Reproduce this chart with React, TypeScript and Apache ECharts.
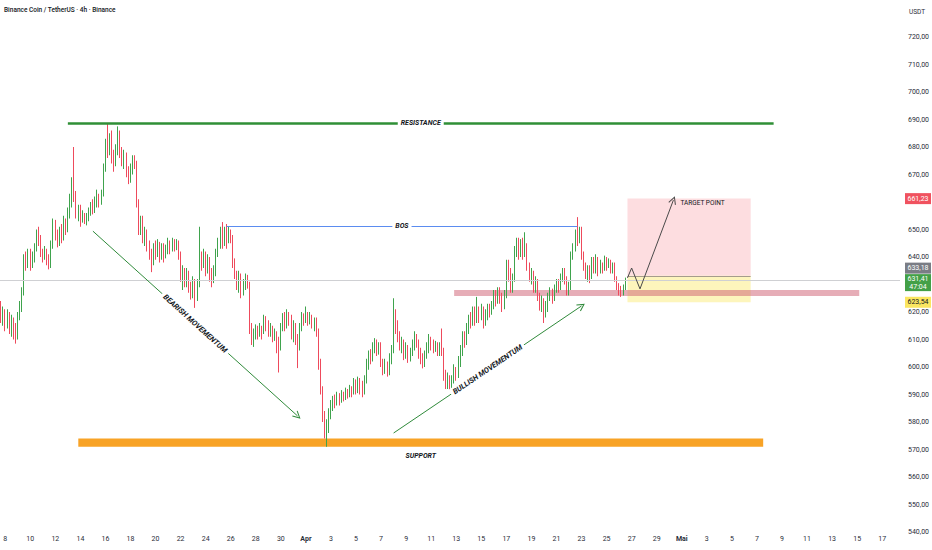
import React, { useEffect, useRef } from 'react';
import * as echarts from 'echarts';

const TITLE = 'Binance Coin / TetherUS · 4h · Binance';
const CURRENCY = 'USDT';

// x-axis tick labels, one every two days starting 8 March 00:00
const dayTickLabels = ['8', '10', '12', '14', '16', '18', '20', '22', '24', '26', '28', '30', 'Apr', '3', '5', '7', '9', '11', '13', '15', '17', '19', '21', '23', '25', '27', '29', 'Mai', '3', '5', '7', '9', '11', '13', '15', '17'];
const SLOT_COUNT = 431; // 4h slots shown on the time axis
const FIRST_TICK_SLOT = 2;
const SLOTS_PER_DAY = 6;
const TICK_EVERY_DAYS = 2;

// 4h candles: [open, close, low, high]
const candles: number[][] = [
  [622, 618, 616, 624], [618, 620, 615, 622], [620, 616, 613, 621], [616, 619, 614, 621], [619, 615, 612, 620], [615, 617, 611, 619],
  [617, 613, 610, 618], [613, 611, 608.5, 616], [611, 619, 610, 620], [619, 622, 617, 624], [622, 627, 620, 629], [627, 639, 626, 641],
  [639, 638, 635, 642], [638, 641, 636, 643], [641, 637, 635, 643], [637, 640, 636, 642], [640, 643, 638, 645], [643, 648, 642, 650],
  [648, 646, 644, 651], [646, 641, 640, 648], [641, 640, 638, 643], [640, 642, 639, 644], [642, 639, 637, 643], [639, 637, 635.5, 641],
  [637, 644, 636, 646], [644, 651, 643, 654], [651, 648, 646, 653.5], [648, 645, 643.5, 650], [645, 649, 644, 651], [649, 647, 645, 652],
  [647, 652, 646, 655], [652, 650, 648, 654], [650, 656, 649, 658], [656, 660, 654, 663], [660, 667, 658, 669], [667, 662, 660, 680],
  [662, 656, 654, 664], [656, 657, 653, 659], [657, 653, 651, 659], [653, 655, 652.5, 657], [655, 653, 652, 656], [653, 654, 651.5, 656],
  [654, 657, 653, 658], [657, 659, 655, 660], [659, 657, 655.5, 661], [657, 660, 656, 662], [660, 662, 658, 664.5], [662, 660, 658, 663],
  [660, 663, 659, 664.5], [663, 672, 662, 674], [672, 681, 671, 683], [681, 679, 676, 688.5], [679, 683, 677, 685], [683, 676, 674, 686],
  [676, 674, 671, 679], [674, 679, 673, 681], [679, 684, 677, 687.5], [684, 678, 676, 686], [678, 675, 673, 680], [675, 677, 672, 679],
  [677, 671, 669, 678], [671, 668, 666.5, 673], [668, 672, 667, 674], [672, 675, 670, 677], [675, 674, 672, 677], [674, 660, 658, 675],
  [660, 650, 648, 661], [650, 653, 648, 655], [653, 646, 645, 655], [646, 649, 644, 651], [649, 644, 642, 650], [644, 641, 639, 646],
  [641, 639, 634.5, 643], [639, 643, 637, 645], [643, 641, 639, 646], [641, 644, 640, 646.5], [644, 640, 638, 645.5], [640, 643, 639, 645],
  [643, 641, 638, 645], [641, 642, 639.5, 644.5], [642, 645, 641, 647], [645, 643, 641, 646], [643, 645.5, 642, 647], [645.5, 644, 642, 646.5],
  [644, 645, 642.5, 646.5], [645, 641, 639, 646], [641, 632, 631, 642], [632, 635, 628, 637], [635, 630, 629, 636], [630, 634, 629, 636],
  [634, 629, 627, 635], [629, 627, 624.5, 631], [627, 631, 625, 633], [631, 626, 621.5, 632], [626, 630, 624, 632], [630, 640, 629, 651],
  [640, 638, 635, 642], [638, 641, 636, 643], [641, 635, 633, 642], [635, 639, 634, 641], [639, 633, 631, 640], [633, 631, 629, 636],
  [631, 634, 630.5, 637], [634, 641, 633, 643], [641, 645, 640, 647], [645, 649, 643, 651], [649, 645, 643, 652.7], [645, 648, 644, 651],
  [648, 646, 643, 652], [646, 649, 645, 651], [649, 647, 645, 650], [647, 638, 636, 648], [638, 634, 632, 639.5], [634, 631, 628, 635],
  [631, 633, 627, 635], [633, 628, 625, 634], [628, 630, 626, 632], [630, 632, 628, 634], [632, 630, 628.5, 633.5], [630, 614, 612, 631],
  [614, 611, 608, 616], [611, 612, 607.3, 614], [612, 614, 610, 615.5], [614, 612, 610, 615], [612, 614, 611, 616], [614, 613, 610, 615],
  [613, 617, 612, 619], [617, 615, 613, 618.5], [615, 613, 611, 617], [613, 614, 611, 616], [614, 611, 609, 615], [611, 612, 609.5, 614],
  [612, 609, 605, 613], [609, 608, 598, 611], [608, 614, 606, 616], [614, 618, 613, 619.6], [618, 615, 613, 620], [615, 619, 614, 621],
  [619, 617, 615, 620], [617, 612, 610, 619], [612, 615, 609, 617], [615, 610, 608, 616], [610, 608, 599.6, 612], [608, 614, 606, 616],
  [614, 618, 613, 620], [618, 617, 615, 619.5], [617, 619, 616, 622], [619, 617, 615, 620], [617, 618, 615.5, 620], [618, 616, 614, 619],
  [616, 617, 613, 618], [617, 613, 611, 618], [613, 601, 599, 614], [601, 592, 590, 603], [592, 582, 580, 593], [582, 577, 574, 584],
  [577, 578, 571, 581], [578, 583, 576, 585], [583, 586, 581, 588], [586, 588, 584, 589.5], [588, 587, 585, 590], [587, 589, 586, 591],
  [589, 588, 586, 590.5], [588, 590, 587, 591.6], [590, 589, 587.5, 591], [589, 591, 588, 592.5], [591, 590, 588.5, 592], [590, 592, 589, 593.5],
  [592, 591, 589, 593], [591, 594, 590, 596], [594, 592, 590, 595.5], [592, 595, 590.5, 596.5], [595, 593, 590, 596], [593, 591, 589, 595],
  [591, 595, 590, 597], [595, 601, 594, 603], [601, 604, 599, 606], [604, 603, 601, 606.5], [603, 607, 602, 609], [607, 609, 605, 610.5],
  [609, 606, 604, 610], [606, 608, 604.5, 609], [608, 602, 600, 609], [602, 599, 597, 603], [599, 601, 597.5, 603], [601, 598, 596.5, 602],
  [598, 603, 597, 605], [603, 606, 601, 608], [606, 619, 605, 625], [619, 615, 612, 621], [615, 611, 609, 617], [611, 608, 606, 613],
  [608, 609, 605, 611], [609, 605, 602.5, 610], [605, 607, 603, 609], [607, 603, 601.5, 608], [603, 605, 602, 607], [605, 608, 604, 610],
  [608, 611, 606, 613], [611, 609, 607, 612], [609, 605, 603, 610], [605, 603, 601, 607], [603, 601, 599.5, 605], [601, 604, 600, 606],
  [604, 607, 603, 609], [607, 610, 605, 612], [610, 608, 606, 611], [608, 607, 605, 610], [607, 608, 605.5, 609.5], [608, 606, 604, 609],
  [606, 607, 604, 609], [607, 606, 604, 614], [606, 597, 595, 607], [597, 594, 592, 599], [594, 596, 592, 598], [596, 593, 591.6, 597],
  [593, 595, 591.5, 597], [595, 599, 594, 601], [599, 597, 595, 600], [597, 602, 596, 604], [602, 606, 600, 608], [606, 611, 604, 613],
  [611, 609, 607, 613], [609, 614, 608, 616], [614, 618, 612, 619], [618, 616, 614, 620], [616, 620, 615, 622], [620, 617, 615, 622],
  [617, 621, 616, 625.5], [621, 618, 616, 622], [618, 621, 617, 623], [621, 616, 614, 622], [616, 619, 615, 621], [619, 622, 617, 623],
  [622, 620, 618, 623], [620, 622, 619, 624], [622, 626, 621, 628], [626, 624, 622, 628], [624, 627, 623, 629], [627, 625, 623, 629],
  [625, 622, 620, 627], [622, 626, 621, 628], [626, 637, 625, 639], [637, 634, 631, 639], [634, 628, 627, 636], [628, 632, 627, 634],
  [632, 642, 631, 644], [642, 645, 640, 647], [645, 641, 639, 647], [641, 645, 640, 646.5], [645, 641, 639, 647], [641, 644, 640, 649],
  [644, 637, 635, 645], [637, 633, 631, 638], [633, 634, 630, 636], [634, 629, 627, 635], [629, 631, 627, 633], [631, 626, 624, 632],
  [626, 622, 620.5, 627], [622, 624, 620, 626], [624, 620, 616, 625], [620, 622, 618, 624], [622, 625, 620, 627], [625, 627, 624, 629],
  [627, 625, 623, 628.5], [625, 628, 624, 630], [628, 630, 627, 632], [630, 629, 627, 632], [629, 632, 628, 634], [632, 634, 631, 636],
  [634, 632, 630, 636], [632, 627, 626, 633], [627, 629, 626, 631], [629, 640, 628, 642], [640, 643, 639, 645], [643, 648, 642, 650],
  [648, 646, 644, 654.5], [646, 650, 645, 651], [650, 641, 639, 651], [641, 637, 635, 642], [637, 634, 632, 638], [634, 636, 631, 637],
  [636, 633, 630.5, 637], [633, 638, 632, 640], [638, 636, 634, 640], [636, 639, 634, 641], [639, 635, 633, 640], [635, 637, 634, 639],
  [637, 636, 634, 638], [636, 639, 635, 640.5], [639, 637, 635, 640], [637, 638, 636, 639.5], [638, 635, 634, 639], [635, 637, 634, 638],
  [637, 632, 631, 638], [632, 629, 628, 633], [629, 628, 626, 630.5], [628, 627, 625.5, 629.5], [627, 629, 626, 630], [629, 631.41, 628, 632.5],
];

// levels and drawings, as [slot, price]
const resistanceLevel = 688.7;
const resistanceSpan = [32, 370];
const supportZone = [571, 574];
const supportSpan = [37, 365];
const bosLevel = 651.3;
const bosSpan = [108, 276];
const flipZone = [625.8, 628];
const flipSpan = [217, 411];
const positionSpan = [300, 359];
const targetPrice = 661.23;
const entryPrice = 633.18;
const stopPrice = 623.54;
const lastPrice = 631.41;
const countdown = '47:04';
const bearishArrow = [[44, 649.4], [142, 582.2]];
const bullishArrow = [[188, 576], [278, 622.2]];
const targetPath = [[300, 632.4], [302, 636], [306, 628.4], [322, 660.7]];
const taggedPrices = [targetPrice, entryPrice, lastPrice, stopPrice];

const FONT = 'Roboto, "Noto Sans", sans-serif';
const UP = '#3fa34d';
const DOWN = '#ee4a5c';
const CHEVRON = 'path://M5,0 L10,9 L8.9,9.6 L5,2.6 L1.1,9.6 L0,9 Z';

const fmt = (v: number) => v.toFixed(2).replace('.', ',');

function buildCategories() {
  const start = Date.UTC(2025, 2, 7, 16);
  const out: string[] = [];
  for (let k = 0; k < SLOT_COUNT; k++) {
    const d = new Date(start + k * 4 * 3600 * 1000);
    out.push(d.toISOString().slice(0, 13) + ':00');
  }
  return out;
}

export default function App() {
  const ref = useRef<HTMLDivElement>(null);
  useEffect(() => {
    if (!ref.current) return;
    const chart = echarts.init(ref.current, undefined, { renderer: 'svg' });
    const categories = buildCategories();
    const tickBySlot = new Map<number, string>();
    dayTickLabels.forEach((t, i) => tickBySlot.set(FIRST_TICK_SLOT + i * TICK_EVERY_DAYS * SLOTS_PER_DAY, t));

    const seg = (a: number[], b: number[], color: string, width: number, arrow?: boolean) => [
      { coord: a, symbol: 'none', lineStyle: { color, width, type: 'solid' } },
      { coord: b, symbol: arrow ? CHEVRON : 'none', symbolSize: arrow ? [8, 8] : 0 },
    ];
    const area = (x0: number, x1: number, p0: number, p1: number, color: string) => [
      { coord: [x0, p1], itemStyle: { color } },
      { coord: [x1, p0] },
    ];

    const targetSegs: any[] = [];
    for (let i = 0; i < targetPath.length - 1; i++) {
      targetSegs.push(seg(targetPath[i], targetPath[i + 1], '#4a4a4a', 1, i === targetPath.length - 2));
    }

    chart.setOption({
      animation: false,
      backgroundColor: '#ffffff',
      grid: { left: 0, right: 32, top: 10, bottom: 18 },
      xAxis: {
        type: 'category',
        data: categories,
        boundaryGap: true,
        axisLine: { show: false },
        axisTick: { show: false },
        splitLine: { show: false },
        axisLabel: {
          interval: (index: number) => tickBySlot.has(index),
          formatter: (_v: string, index: number) => {
            const t = tickBySlot.get(index) || '';
            return t === 'Apr' || t === 'Mai' ? `{m|${t}}` : t;
          },
          fontSize: 7,
          color: '#2a2e39',
          fontFamily: FONT,
          margin: 3,
          rich: { m: { fontSize: 7, fontWeight: 'bold', color: '#2a2e39', fontFamily: FONT } },
        },
      },
      yAxis: {
        type: 'value',
        position: 'right',
        min: 540,
        max: 729.82,
        interval: 10,
        scale: true,
        axisLine: { show: false },
        axisTick: { show: false },
        splitLine: { show: false },
        axisLabel: {
          showMaxLabel: false,
          // tick labels hidden behind the price tags, as on the reference
          formatter: (v: number) => (taggedPrices.some((p) => Math.abs(p - v) < 2.5) ? '' : fmt(v)),
          fontSize: 7,
          color: '#2a2e39',
          fontFamily: FONT,
          margin: 8,
        },
      },
      series: [
        {
          type: 'candlestick',
          data: candles,
          barWidth: '62%',
          itemStyle: { color: UP, color0: DOWN, borderColor: UP, borderColor0: DOWN, borderWidth: 1 },
          markArea: {
            silent: true,
            label: { show: false },
            data: [
              area(supportSpan[0], supportSpan[1], supportZone[0], supportZone[1], '#f8a326'),
              area(positionSpan[0], positionSpan[1], entryPrice, targetPrice, 'rgba(244,67,84,0.18)'),
              area(positionSpan[0], positionSpan[1], stopPrice, entryPrice, 'rgba(250,228,70,0.36)'),
              area(flipSpan[0], flipSpan[1], flipZone[0], flipZone[1], 'rgba(205,92,112,0.5)'),
            ],
          },
          markLine: {
            silent: true,
            symbol: ['none', 'none'],
            label: { show: false },
            emphasis: { disabled: true },
            data: [
              [{ yAxis: lastPrice, x: 0, lineStyle: { color: '#cfd0d3', width: 1, type: 'solid' }, symbol: 'none' }, { yAxis: lastPrice, x: 900, symbol: 'none' }],
              seg([positionSpan[0], entryPrice], [positionSpan[1], entryPrice], '#a59c8c', 1),
              seg([resistanceSpan[0], resistanceLevel], [resistanceSpan[1], resistanceLevel], '#2f8f36', 2.5),
              seg([bosSpan[0], bosLevel], [bosSpan[1], bosLevel], '#5b8cf0', 1),
              seg(bearishArrow[0], bearishArrow[1], '#2f8a3a', 1, true),
              seg(bullishArrow[0], bullishArrow[1], '#2f8a3a', 1, true),
              ...targetSegs,
            ],
          },
        },
      ],
    });

    const px = (p: number[]) => chart.convertToPixel({ gridIndex: 0 }, p) as number[];
    const py = (v: number) => chart.convertToPixel({ yAxisIndex: 0 }, v) as number;
    const mid = (a: number[], b: number[]) => {
      const pa = px(a);
      const pb = px(b);
      return { x: (pa[0] + pb[0]) / 2, y: (pa[1] + pb[1]) / 2, rot: -Math.atan2(pb[1] - pa[1], pb[0] - pa[0]) };
    };
    const tag = (text: string, m: { x: number; y: number; rot: number }, size: number) => ({
      type: 'text', x: m.x, y: m.y, rotation: m.rot, z: 100,
      style: { text, fontSize: size, fontWeight: 'bold', fontStyle: 'italic', fill: '#131722', fontFamily: FONT, align: 'center', verticalAlign: 'middle', backgroundColor: '#ffffff', padding: [1, 3] },
    });
    const box = (y: number, h: number, fill: string, text: string, color: string) => ([
      { type: 'rect', shape: { x: 905, y, width: 26, height: h }, z: 100, style: { fill } },
      { type: 'text', x: 918, y: y + h / 2, z: 101, style: { text, fontSize: 7, fill: color, fontFamily: FONT, align: 'center', verticalAlign: 'middle', lineHeight: 8 } },
    ]);

    const resMid = mid([resistanceSpan[0], resistanceLevel], [resistanceSpan[1], resistanceLevel]);
    const bosMid = mid([bosSpan[0], bosLevel], [bosSpan[1], bosLevel]);
    const supMid = mid([supportSpan[0], supportZone[0]], [supportSpan[1], supportZone[0]]);
    const bearMid = mid(bearishArrow[0], bearishArrow[1]);
    const bullMid = mid(bullishArrow[0], bullishArrow[1]);
    const tEnd = px(targetPath[targetPath.length - 1]);

    const lastTop = py(lastPrice) - 6.5;
    const elements: any[] = [
      { type: 'text', x: 4, y: 10, z: 100, style: { text: TITLE, fontSize: 6.5, fontWeight: 500, fill: '#131722', fontFamily: FONT, align: 'left', verticalAlign: 'middle' } },
      { type: 'text', x: 917, y: 12, z: 100, style: { text: CURRENCY, fontSize: 6.5, fill: '#2a2e39', fontFamily: FONT, align: 'center', verticalAlign: 'middle' } },
      tag('RESISTANCE', resMid, 7),
      tag('BOS', bosMid, 7),
      { type: 'text', x: supMid.x, y: supMid.y + 9, z: 100, style: { text: 'SUPPORT', fontSize: 7, fontWeight: 'bold', fontStyle: 'italic', fill: '#131722', fontFamily: FONT, align: 'center', verticalAlign: 'middle' } },
      tag('BEARISH MOVEMENTUM', bearMid, 7.5),
      tag('BULLISH MOVEMENTUM', bullMid, 7.5),
      { type: 'text', x: tEnd[0] + 7, y: tEnd[1] + 3, z: 100, style: { text: 'TARGET POINT', fontSize: 6.5, fill: '#131722', fontFamily: FONT, align: 'left', verticalAlign: 'middle' } },
      ...box(py(targetPrice) - 5.5, 11, '#f0525f', fmt(targetPrice), '#ffffff'),
      ...box(lastTop - 11.5, 11, '#7a7d85', fmt(entryPrice), '#ffffff'),
      ...box(lastTop, 17, '#43a047', fmt(lastPrice) + '\n' + countdown, '#ffffff'),
      ...box(py(stopPrice) - 5.5, 11, '#fbe661', fmt(stopPrice), '#131722'),
    ];
    chart.setOption({ graphic: { elements } });

    return () => chart.dispose();
  }, []);

  return <div ref={ref} style={{ position: 'fixed', left: 0, top: 0, width: 932, height: 550, background: '#fff' }} />;
}
